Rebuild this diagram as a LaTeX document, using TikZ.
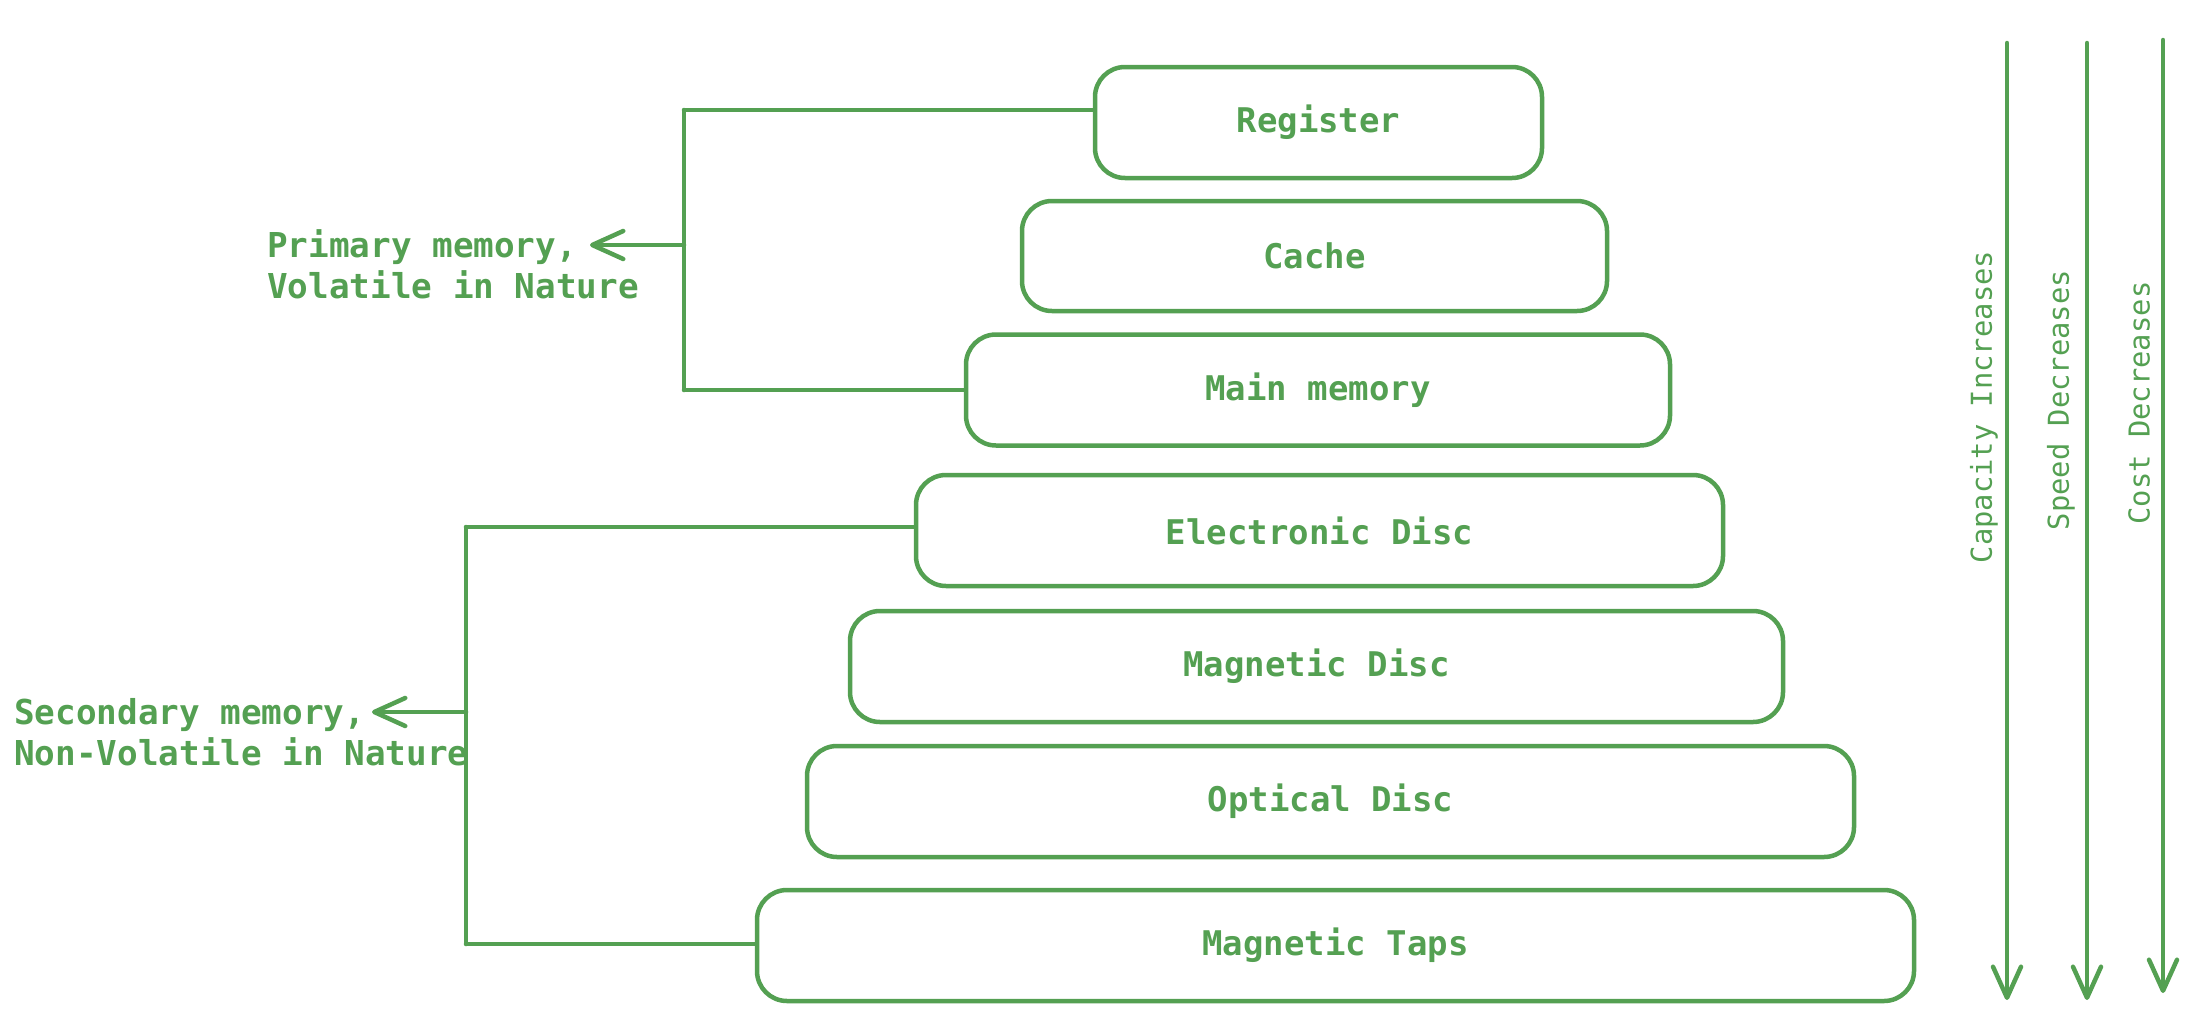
\documentclass[tikz,border=0pt]{standalone}
\usepackage{fontspec}
\newfontfamily\monofont{DejaVu Sans Mono}
\usetikzlibrary{arrows.meta}
\definecolor{hgreen}{RGB}{84,160,82}
\tikzset{
  memline/.style={draw=hgreen, line width=4.5pt, line cap=round, line join=round},
  membox/.style={draw=hgreen, line width=4.5pt, rounded corners=30pt, inner sep=0pt,
     text=hgreen, font=\monofont\bfseries\fontsize{34}{40}\selectfont},
  sidelabel/.style={text=hgreen, align=left, inner sep=0pt, anchor=west,
     font=\monofont\bfseries\fontsize{34.3}{41}\selectfont},
  vlabel/.style={text=hgreen, inner sep=0pt, rotate=90,
     font=\monofont\fontsize{28.8}{34}\selectfont},
  tip/.style={-{Straight Barb[length=31pt,width=28pt,line width=4.5pt,round]}},
}
\begin{document}
\begin{tikzpicture}[x=1pt,y=-1pt]
\useasboundingbox (0,0) rectangle (2202,1020);
% boxes
\node[membox, minimum width=447pt, minimum height=111pt] (reg) at (1318.5,122.5) {Register};
\node[membox, minimum width=585pt, minimum height=110pt] (cache) at (1314.5,256) {Cache};
\node[membox, minimum width=704pt, minimum height=111pt] (main) at (1318,390) {Main memory};
\node[membox, minimum width=807pt, minimum height=111pt] (edisc) at (1319.5,530.5) {Electronic Disc};
\node[membox, minimum width=933pt, minimum height=111pt] (mdisc) at (1316.5,666.5) {Magnetic Disc};
\node[membox, minimum width=1047pt, minimum height=111pt] (odisc) at (1330.5,801.5) {Optical Disc};
\node[membox, minimum width=1157pt, minimum height=111pt] (taps) at (1335.5,945.5) {Magnetic Taps};
% primary bracket
\coordinate (ptop) at (684,110);
\coordinate (pbot) at (684,390);
\coordinate (pmid) at (684,245);
\coordinate (parr) at (590,245);
\node[sidelabel] (plabel) at (267,264.5) {Primary memory,\\Volatile in Nature};
\draw[memline] (ptop) -- (pbot);
\draw[memline] (ptop) -- (ptop -| reg.west);
\draw[memline] (pbot) -- (pbot -| main.west);
\draw[memline, tip] (pmid) -- (parr);
% secondary bracket
\coordinate (stop) at (466,527);
\coordinate (sbot) at (466,944);
\coordinate (smid) at (466,712);
\coordinate (sarr) at (372,712);
\node[sidelabel] (slabel) at (14,732.5) {Secondary memory,\\Non-Volatile in Nature};
\draw[memline] (stop) -- (sbot);
\draw[memline] (stop) -- (stop -| edisc.west);
\draw[memline] (sbot) -- (sbot -| taps.west);
\draw[memline, tip] (smid) -- (sarr);
% right arrows
\coordinate (a1t) at (2007,43);
\coordinate (a1b) at (2007,1000);
\coordinate (a2t) at (2087,43);
\coordinate (a2b) at (2087,1000);
\coordinate (a3t) at (2163,40);
\coordinate (a3b) at (2163,993);
\draw[memline, tip] (a1t) -- (a1b);
\draw[memline, tip] (a2t) -- (a2b);
\draw[memline, tip] (a3t) -- (a3b);
\node[vlabel] (cap) at (1984,407) {Capacity Increases};
\node[vlabel] (spd) at (2061,400) {Speed Decreases};
\node[vlabel] (cst) at (2139,403) {Cost Decreases};
\end{tikzpicture}
\end{document}
